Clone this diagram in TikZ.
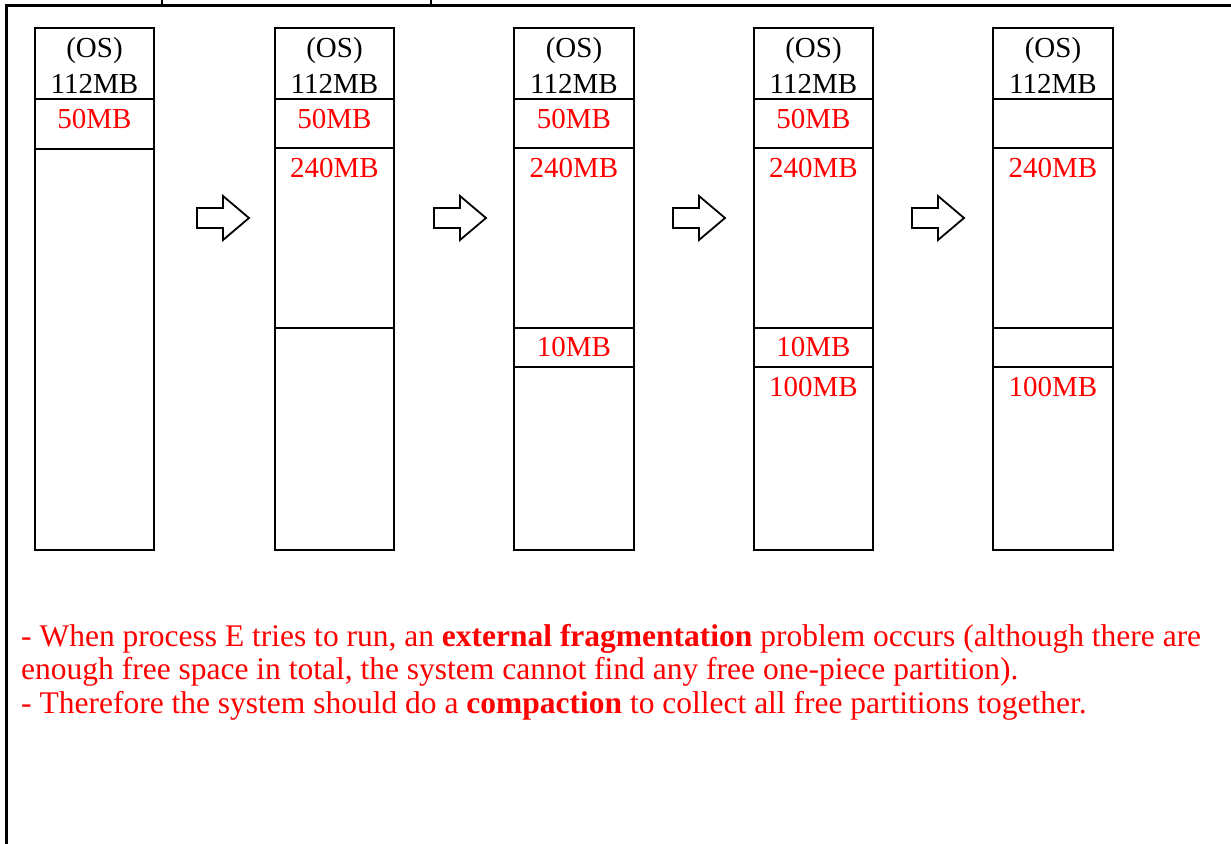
\documentclass[tikz,border=0pt]{standalone}
\usepackage{fontspec}
\setmainfont{Liberation Serif}
\begin{document}
\begin{tikzpicture}[x=1pt,y=-1pt,
  frame/.style={line width=2.2pt, line cap=rect},
  mem/.style={draw, line width=2.2pt},
  blockarrow/.style={draw, line width=1.8pt, line join=miter, fill=white},
  lbl/.style={anchor=base, inner sep=0pt, font=\fontsize{29}{34}\selectfont},
  used/.style={lbl, text=red},
  note/.style={anchor=base west, inner sep=0pt, text=red, font=\fontsize{31.5}{34}\selectfont}]
\useasboundingbox (0,0) rectangle (1231,843);

% page frame (top rule and left rule) with clipped descenders above it
\draw[frame] (6.5,843) -- (6.5,5.5) -- (1231,5.5);
\draw[line width=1.6pt] (162,0) -- (162,5) (159,4.5) -- (165,4.5);
\draw[line width=1.6pt] (431,0) -- (431,5) (428,4.5) -- (434,4.5);

% memory map 1
\draw[mem] (35,28) rectangle (154,550);
\draw[mem] (35,99) -- (154,99) (35,149) -- (154,149);
\node[lbl] (os1) at (94.5,58) {(OS)};
\node[lbl] (k1) at (94.5,93) {112MB};
\node[used] (a1) at (94.5,128) {50MB};

% memory map 2
\draw[mem] (275,28) rectangle (394,550);
\draw[mem] (275,99) -- (394,99) (275,148) -- (394,148) (275,328) -- (394,328);
\node[lbl] (os2) at (334.5,58) {(OS)};
\node[lbl] (k2) at (334.5,93) {112MB};
\node[used] (a2) at (334.5,128) {50MB};
\node[used] (b2) at (334.5,177) {240MB};

% memory map 3
\draw[mem] (514,28) rectangle (634,550);
\draw[mem] (514,99) -- (634,99) (514,148) -- (634,148) (514,328) -- (634,328) (514,367) -- (634,367);
\node[lbl] (os3) at (574,58) {(OS)};
\node[lbl] (k3) at (574,93) {112MB};
\node[used] (a3) at (574,128) {50MB};
\node[used] (b3) at (574,177) {240MB};
\node[used] (c3) at (574,356) {10MB};

% memory map 4
\draw[mem] (754,28) rectangle (873,550);
\draw[mem] (754,99) -- (873,99) (754,148) -- (873,148) (754,328) -- (873,328) (754,367) -- (873,367);
\node[lbl] (os4) at (813.5,58) {(OS)};
\node[lbl] (k4) at (813.5,93) {112MB};
\node[used] (a4) at (813.5,128) {50MB};
\node[used] (b4) at (813.5,177) {240MB};
\node[used] (c4) at (813.5,356) {10MB};
\node[used] (d4) at (813.5,396) {100MB};

% memory map 5
\draw[mem] (993,28) rectangle (1113,550);
\draw[mem] (993,99) -- (1113,99) (993,148) -- (1113,148) (993,328) -- (1113,328) (993,367) -- (1113,367);
\node[lbl] (os5) at (1053,58) {(OS)};
\node[lbl] (k5) at (1053,93) {112MB};
\node[used] (b5) at (1053,177) {240MB};
\node[used] (d5) at (1053,396) {100MB};

% block arrows between the maps
\foreach \x in {197,434,673,912}{
  \draw[blockarrow] (\x,208) -- (\x+26,208) -- (\x+26,196) -- (\x+52,218)
    -- (\x+26,240) -- (\x+26,228) -- (\x,228) -- cycle;
}

% explanation
\node[note] (n1) at (21,646) {- When process E tries to run, an \textbf{external fragmentation} problem occurs (although there are};
\node[note] (n2) at (21,679) {enough free space in total, the system cannot find any free one-piece partition).};
\node[note] (n3) at (21,713) {- Therefore the system should do a \textbf{compaction} to collect all free partitions together.};
\end{tikzpicture}
\end{document}
